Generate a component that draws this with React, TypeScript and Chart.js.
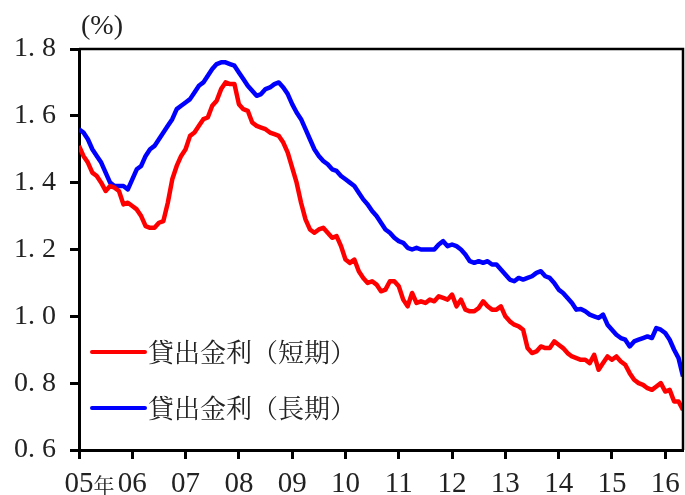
import React, { useEffect, useRef } from "react";
import { Chart, registerables } from "chart.js";

Chart.register(...registerables);

// Monthly data, 2005/01 .. 2016/05 (137 months)
const xTickLabels = ["05", "06", "07", "08", "09", "10", "11", "12", "13", "14", "15", "16"];
const yTickValues = [0.6, 0.8, 1.0, 1.2, 1.4, 1.6, 1.8];
const seriesNames = ["貸出金利（短期）", "貸出金利（長期）"];
const unitLabel = "(%)";
const yearSuffix = "年";

const shortTerm = [
  1.51, 1.48, 1.46, 1.43, 1.42, 1.40, 1.375, 1.39, 1.385, 1.375, 1.335, 1.34,
  1.33, 1.32, 1.30, 1.27, 1.265, 1.265, 1.28, 1.285, 1.34, 1.41, 1.45, 1.48,
  1.50, 1.54, 1.55, 1.57, 1.59, 1.595, 1.63, 1.645, 1.68, 1.70, 1.695, 1.695,
  1.635, 1.62, 1.615, 1.58, 1.57, 1.565, 1.56, 1.55, 1.545, 1.54, 1.52, 1.49,
  1.445, 1.40, 1.34, 1.29, 1.26, 1.25, 1.26, 1.265, 1.25, 1.235, 1.24, 1.21,
  1.17, 1.16, 1.17, 1.135, 1.115, 1.10, 1.105, 1.095, 1.075, 1.08, 1.105, 1.105,
  1.09, 1.05, 1.03, 1.07, 1.04, 1.045, 1.04, 1.05, 1.045, 1.06, 1.055, 1.05,
  1.065, 1.03, 1.05, 1.02, 1.015, 1.015, 1.025, 1.045, 1.03, 1.02, 1.02, 1.03,
  1.00, 0.985, 0.975, 0.97, 0.96, 0.905, 0.89, 0.895, 0.91, 0.905, 0.905, 0.925,
  0.915, 0.905, 0.89, 0.88, 0.875, 0.87, 0.87, 0.86, 0.885, 0.84, 0.86, 0.88,
  0.87, 0.88, 0.865, 0.855, 0.83, 0.81, 0.80, 0.795, 0.785, 0.78, 0.79, 0.80,
  0.775, 0.78, 0.745, 0.745, 0.72,
];

const longTerm = [
  1.56, 1.55, 1.53, 1.50, 1.48, 1.46, 1.43, 1.40, 1.39, 1.39, 1.39, 1.38,
  1.41, 1.44, 1.45, 1.48, 1.50, 1.51, 1.53, 1.55, 1.57, 1.59, 1.62, 1.63,
  1.64, 1.65, 1.67, 1.69, 1.70, 1.72, 1.74, 1.755, 1.76, 1.76, 1.755, 1.75,
  1.73, 1.71, 1.69, 1.675, 1.66, 1.665, 1.68, 1.685, 1.695, 1.70, 1.685, 1.665,
  1.635, 1.61, 1.59, 1.56, 1.53, 1.50, 1.48, 1.465, 1.455, 1.44, 1.435, 1.42,
  1.41, 1.40, 1.39, 1.37, 1.35, 1.335, 1.315, 1.30, 1.28, 1.26, 1.25, 1.235,
  1.225, 1.22, 1.205, 1.20, 1.205, 1.20, 1.20, 1.20, 1.20, 1.215, 1.225, 1.21,
  1.215, 1.21, 1.20, 1.185, 1.165, 1.16, 1.165, 1.16, 1.165, 1.155, 1.155, 1.14,
  1.125, 1.11, 1.105, 1.115, 1.11, 1.115, 1.12, 1.13, 1.135, 1.12, 1.115, 1.10,
  1.08, 1.07, 1.055, 1.04, 1.02, 1.022, 1.015, 1.005, 1.00, 0.995, 1.005, 0.975,
  0.96, 0.945, 0.935, 0.93, 0.91, 0.925, 0.93, 0.935, 0.94, 0.935, 0.965, 0.96,
  0.95, 0.93, 0.90, 0.875, 0.82,
];

const seriesColors = ["#ff0000", "#0000ff"];
const MINCHO = '"Noto Serif CJK JP", "Liberation Serif", serif';
const DIGITS = '"Liberation Serif", "Noto Serif CJK JP", serif';

const decorPlugin = {
  id: "decor",
  afterDraw(chart: any) {
    const { ctx, chartArea: a, scales } = chart;
    ctx.save();
    ctx.strokeStyle = "#000";
    ctx.lineWidth = 2.5;
    ctx.beginPath();
    ctx.moveTo(a.left, a.top);
    ctx.lineTo(a.right, a.top);
    ctx.lineTo(a.right, a.bottom);
    ctx.stroke();

    ctx.fillStyle = "#222";
    ctx.textBaseline = "middle";
    ctx.textAlign = "left";
    ctx.font = `28px ${DIGITS}`;
    ctx.fillText(unitLabel, 81, 27);

    // x-axis year labels
    ctx.textAlign = "center";
    ctx.textBaseline = "alphabetic";
    ctx.font = `29px ${DIGITS}`;
    xTickLabels.forEach((lab, i) => {
      ctx.fillText(lab, scales.x.getPixelForValue(i * 12), 492);
    });

    ctx.textBaseline = "middle";
    ctx.font = `21px ${MINCHO}`;
    ctx.fillText(yearSuffix, scales.x.getPixelForValue(0) + 25, 485);

    // legend
    const rows = [352, 408];
    seriesNames.forEach((name, i) => {
      const y = rows[i];
      ctx.strokeStyle = seriesColors[i];
      ctx.lineWidth = 4;
      ctx.lineCap = "round";
      ctx.beginPath();
      ctx.moveTo(92, y);
      ctx.lineTo(145, y);
      ctx.stroke();
      ctx.fillStyle = "#222";
      ctx.textAlign = "left";
      ctx.font = `26px ${MINCHO}`;
      ctx.fillText(name, 148, y);
    });
    ctx.restore();
  },
};

export default function App() {
  const ref = useRef<HTMLCanvasElement | null>(null);

  useEffect(() => {
    if (!ref.current) return;
    let chart: any = null;
    let cancelled = false;
    const mk = (arr: number[]) => arr.map((v, i) => ({ x: i, y: v }));
    const build = () => {
      if (cancelled || !ref.current) return;
      chart = new Chart(ref.current, {
        type: "line",
        data: {
          datasets: [
            {
              label: seriesNames[0],
              data: mk(shortTerm),
              borderColor: seriesColors[0],
              borderWidth: 4.5,
              pointRadius: 0,
              tension: 0,
              borderJoinStyle: "round",
            },
            {
              label: seriesNames[1],
              data: mk(longTerm),
              borderColor: seriesColors[1],
              borderWidth: 4.5,
              pointRadius: 0,
              tension: 0,
              borderJoinStyle: "round",
            },
          ],
        },
        options: {
          responsive: false,
          animation: false,
          layout: { padding: { top: 49, right: 2, left: 0, bottom: 0 } },
          plugins: { legend: { display: false }, tooltip: { enabled: false } },
          scales: {
            x: {
              type: "linear",
              min: 0,
              max: 136,
              afterBuildTicks: (axis: any) => {
                axis.ticks = xTickLabels.map((_, i) => ({ value: i * 12 }));
              },
              afterFit: (axis: any) => {
                axis.height = 45;
              },
              ticks: { display: false },
              grid: {
                display: true,
                drawOnChartArea: false,
                drawTicks: true,
                tickLength: 9,
                tickWidth: 3,
                tickColor: "#000",
              },
              border: { display: true, color: "#000", width: 3 },
            },
            y: {
              min: 0.6,
              max: 1.8,
              afterBuildTicks: (axis: any) => {
                axis.ticks = yTickValues.map((v) => ({ value: v }));
              },
              afterFit: (axis: any) => {
                axis.width = 79;
              },
              ticks: {
                padding: 14,
                color: "#222",
                font: { family: DIGITS, size: 28 },
                callback: (v: any) => Number(v).toFixed(1).replace(".", ". "),
              },
              grid: {
                display: true,
                drawOnChartArea: false,
                drawTicks: true,
                tickLength: 9,
                tickWidth: 3,
                tickColor: "#000",
              },
              border: { display: true, color: "#000", width: 3 },
            },
          },
        },
        plugins: [decorPlugin],
      } as any);
    };
    const fontsApi: any = (document as any).fonts;
    if (fontsApi && fontsApi.load) {
      Promise.all([
        fontsApi.load('27px "Noto Serif CJK JP"', "貸出金利（短期長）年"),
        fontsApi.load('27px "Liberation Serif"', "0123456789.(%)"),
      ])
        .catch(() => null)
        .then(build);
    } else {
      build();
    }
    return () => {
      cancelled = true;
      if (chart) chart.destroy();
    };
  }, []);

  return (
    <div style={{ position: "fixed", left: 0, top: 0, width: 685, height: 495, background: "#fff" }}>
      <canvas ref={ref} width={685} height={495} style={{ display: "block" }} />
    </div>
  );
}
